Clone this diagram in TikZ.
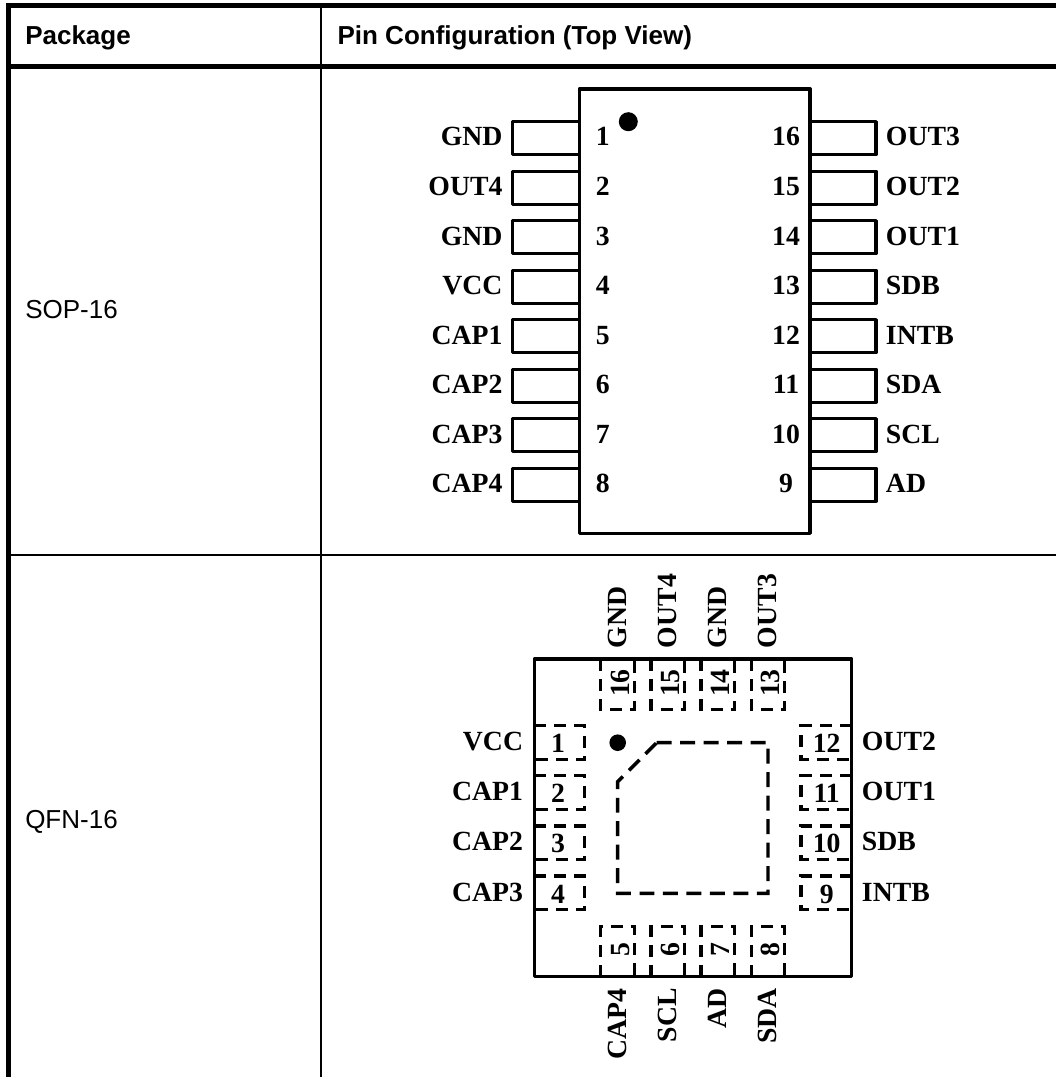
\documentclass[tikz,border=0pt]{standalone}
\usepackage{fontspec}
\setmainfont{Liberation Serif}
\newfontfamily\arialfont{Liberation Sans}
\usetikzlibrary{positioning}
\tikzset{
	pinlabel/.style={inner sep=0pt, font=\fontsize{20.8pt}{24pt}\selectfont\bfseries},
	headtext/.style={anchor=base west, inner sep=0pt, font=\fontsize{19.5pt}{24pt}\arialfont\bfseries},
	celltext/.style={anchor=base west, inner sep=0pt, font=\fontsize{19.5pt}{24pt}\arialfont},
	pinline/.style={line width=2.5pt, line join=round},
	padline/.style={line width=2.5pt, dash pattern=on 9pt off 6pt},
	thermal/.style={line width=2.6pt, dash pattern=on 11.2pt off 6.4pt}
}
\begin{document}
\begin{tikzpicture}[x=0.75pt, y=-0.75pt]
	\useasboundingbox (0, 0) rectangle (1056, 1077);
	% table rules
	\draw[line width=3.4pt] (8.4, 1077) -- (8.4, 5.3) -- (1056, 5.3);
	\draw[line width=3.6pt] (6, 66.5) -- (1056, 66.5);
	\draw[line width=1.6pt] (10, 555) -- (1056, 555);
	\draw[line width=1.4pt] (320.8, 5) -- (320.8, 1077);
	\node[headtext] (pkghead) at (25, 44.3) {Package};
	\node[headtext] (pinhead) at (337.3, 44.3) {Pin Configuration (Top View)};
	\node[celltext] (sop) at (25, 318.5) {SOP-16};
	\node[celltext] (qfn) at (25, 828) {QFN-16};
	% SOP-16
	\draw[pinline] (579.3, 89) rectangle (810, 533.3);
	\fill (628.3, 121.7) circle (9.5);
	\foreach \i/\name in {1/GND, 2/OUT4, 3/GND, 4/VCC, 5/CAP1, 6/CAP2, 7/CAP3, 8/CAP4} {
		\pgfmathsetmacro\ytop{121.7 + 49.5 * (\i - 1)}
		\draw[pinline] (579.3, \ytop) -| (512.3, \ytop + 33) -- (579.3, \ytop + 33);
		\node[pinlabel, anchor=base east] (sopl\i) at (502.7, \ytop + 24.3) {\name};
		\node[pinlabel, anchor=base] (sopn\i) at (602.8, \ytop + 24.3) {\i};
	}
	\foreach \i/\n/\name in {1/16/OUT3, 2/15/OUT2, 3/14/OUT1, 4/13/SDB, 5/12/INTB, 6/11/SDA, 7/10/SCL, 8/9/AD} {
		\pgfmathsetmacro\ytop{121.7 + 49.5 * (\i - 1)}
		\draw[pinline] (810, \ytop) -| (876, \ytop + 33) -- (810, \ytop + 33);
		\node[pinlabel, anchor=base west] (sopl\n) at (885.7, \ytop + 24.3) {\name};
		\node[pinlabel, anchor=base] (sopn\n) at (786, \ytop + 24.3) {\n};
	}
	% QFN-16
	\draw[pinline] (534.3, 659) rectangle (851.7, 976.7);
	\fill (617.7, 742.7) circle (8.3);
	\draw[thermal] (656.7, 742.7) -- (768, 742.7) -- (768, 893.3) -- (617.7, 893.3) -- (617.7, 781.7) -- cycle;
	\foreach \i/\name in {1/VCC, 2/CAP1, 3/CAP2, 4/CAP3} {
		\pgfmathsetmacro\ytop{725.7 + 50.1 * (\i - 1)}
		\draw[padline] (534.3, \ytop) -| (584.3, \ytop + 33.6) -- (534.3, \ytop + 33.6);
		\node[pinlabel, anchor=base east] (qfnl\i) at (523.3, \ytop + 25) {\name};
		\node[pinlabel, anchor=base] (qfnn\i) at (558, \ytop + 27) {\i};
	}
	\foreach \i/\n/\name in {1/12/OUT2, 2/11/OUT1, 3/10/SDB, 4/9/INTB} {
		\pgfmathsetmacro\ytop{725.7 + 50.1 * (\i - 1)}
		\draw[padline] (851.7, \ytop) -| (801, \ytop + 33.6) -- (851.7, \ytop + 33.6);
		\node[pinlabel, anchor=base west] (qfnl\n) at (861.7, \ytop + 25) {\name};
		\node[pinlabel, anchor=base] (qfnn\n) at (826.7, \ytop + 27) {\n};
	}
	\foreach \i/\n/\name in {0/16/GND, 1/15/OUT4, 2/14/GND, 3/13/OUT3} {
		\pgfmathsetmacro\xpad{600.7 + 50.2 * \i}
		\draw[padline] (\xpad, 659) |- (\xpad + 33.5, 709.3) -- (\xpad + 33.5, 659);
		\node[pinlabel, rotate=90, anchor=base west] (qfnl\n) at (\xpad + 25.6, 648.3) {\name};
		\node[pinlabel, rotate=90, anchor=base] (qfnn\n) at (\xpad + 28.6, 683) {\n};
	}
	\foreach \i/\n/\name in {0/5/CAP4, 1/6/SCL, 2/7/AD, 3/8/SDA} {
		\pgfmathsetmacro\xpad{600.7 + 50.2 * \i}
		\draw[padline] (\xpad, 976.7) |- (\xpad + 33.5, 926.7) -- (\xpad + 33.5, 976.7);
		\node[pinlabel, rotate=90, anchor=base east] (qfnl\n) at (\xpad + 25.6, 988) {\name};
		\node[pinlabel, rotate=90, anchor=base] (qfnn\n) at (\xpad + 28.6, 950) {\n};
	}
\end{tikzpicture}
\end{document}
